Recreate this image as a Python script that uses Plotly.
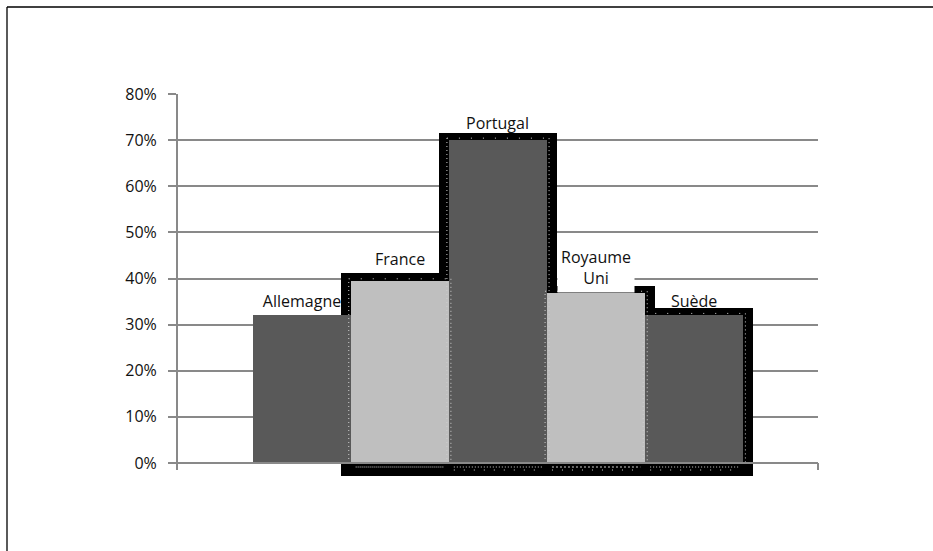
import plotly.graph_objects as go

# ---- data -------------------------------------------------------------
categories = ["Allemagne", "France", "Portugal", "Royaume Uni", "Suède"]
shares = [0.32, 0.395, 0.70, 0.368, 0.32]
bar_colors = ["#595959", "#bfbfbf", "#595959", "#bfbfbf", "#595959"]
tick_values = [0.0, 0.1, 0.2, 0.3, 0.4, 0.5, 0.6, 0.7, 0.8]
tick_labels = ["0%", "10%", "20%", "30%", "40%", "50%", "60%", "70%", "80%"]

# ---- geometry ---------------------------------------------------------
W, H = 933, 551
PL, PR, PT, PB = 177, 818, 94, 478          # plot area edges in px
Y_MIN, Y_MAX = -0.0325, 0.80
X_MIN, X_MAX = -1.27, 5.26
PX_X = (PR - PL) / (X_MAX - X_MIN)          # px per category unit
PX_Y = (PB - PT) / (Y_MAX - Y_MIN)          # px per value unit

GRID = "#898989"
TEXT = "#111111"
FONT = "Open Sans"


def xp(px):
    return (px - PL) / (PR - PL)


def yp(py):
    return (PB - py) / (PB - PT)


def yp_val(v):
    return (v - Y_MIN) / (Y_MAX - Y_MIN)


fig = go.Figure()

# label of the first bar sits under the neighbouring shadows
fig.add_trace(go.Bar(
    x=categories[:1], y=shares[:1], width=1.0,
    marker=dict(color="rgba(0,0,0,0)", line=dict(width=0)),
    text=categories[:1], textposition="outside", cliponaxis=False,
    constraintext="none",
    textfont=dict(family=FONT, size=16, color=TEXT),
    hoverinfo="skip",
))

# black shadow frame behind the other bars
shadow_top = 7.5 / PX_Y
shadow_base = -13 / PX_Y
fig.add_trace(go.Bar(
    x=categories[1:],
    y=[v + shadow_top - shadow_base for v in shares[1:]],
    base=shadow_base,
    width=1 + 2 * 10 / PX_X,
    marker=dict(color="#000000", line=dict(width=0)),
    hoverinfo="skip",
))

# main bars
fig.add_trace(go.Bar(
    x=categories, y=shares, width=1.0,
    marker=dict(color=bar_colors, line=dict(width=0)),
    hoverinfo="skip",
))

shapes = []

# dotted edges inside the shadow frames
dot = dict(color="#cfcfcf", width=1)
for i in range(1, len(categories)):
    v = shares[i]
    left = i - 0.5 - 2 / PX_X
    right = i + 0.5 + 2 / PX_X
    top = v + 2 / PX_Y
    for (x0, y0, x1, y1, d) in [
        (left, 0, left, top, "1px,3px"),
        (left, top, right, top, "1px,11px"),
        (right, top, right, 0, "1px,3px"),
    ]:
        shapes.append(dict(type="line", xref="x", yref="y",
                           x0=x0, y0=y0, x1=x1, y1=y1, layer="above",
                           line=dict(dot, dash=d)))
    row_dash = ["1px,1px", "1px,2px", "2px,2px", "1px,2px"][i - 1]
    shapes.append(dict(type="line", xref="x", yref="y",
                       x0=i - 0.45, x1=i + 0.45,
                       y0=-4 / PX_Y, y1=-4 / PX_Y, layer="above",
                       line=dict(dot, dash=row_dash)))
    if i in (2, 3, 4):
        shapes.append(dict(type="line", xref="x", yref="y",
                           x0=i - 0.45, x1=i + 0.45,
                           y0=-7 / PX_Y, y1=-7 / PX_Y, layer="above",
                           line=dict(dot, dash="1px,9px")))

# axis lines and end ticks of the category axis
y0p = yp_val(0)
shapes += [
    dict(type="line", xref="paper", yref="paper",
         x0=0, x1=0, y0=y0p - 5 / (PB - PT), y1=1,
         line=dict(color=GRID, width=2), layer="above"),
    dict(type="line", xref="paper", yref="paper",
         x0=xp(PL - 8), x1=1, y0=y0p, y1=y0p,
         line=dict(color=GRID, width=2), layer="above"),
    dict(type="line", xref="paper", yref="paper",
         x0=0, x1=0, y0=y0p, y1=y0p - 7 / (PB - PT),
         line=dict(color=GRID, width=2), layer="above"),
    dict(type="line", xref="paper", yref="paper",
         x0=1, x1=1, y0=y0p, y1=y0p - 7 / (PB - PT),
         line=dict(color=GRID, width=2), layer="above"),
]

# outer frame edges
shapes += [
    dict(type="line", xref="paper", yref="paper",
         x0=xp(7), x1=xp(W + 5), y0=yp(7), y1=yp(7),
         line=dict(color="#000000", width=1.3), layer="above"),
    dict(type="line", xref="paper", yref="paper",
         x0=xp(7), x1=xp(7), y0=yp(7), y1=yp(H + 5),
         line=dict(color="#000000", width=1.3), layer="above"),
]

# category labels
label_shift = {"France": 22, "Portugal": 17, "Suède": 14}
annotations = []
for i, name in enumerate(categories):
    if name in label_shift:
        annotations.append(dict(
            x=i, y=shares[i], xref="x", yref="y", text=name,
            showarrow=False, yanchor="middle", yshift=label_shift[name],
            font=dict(family=FONT, size=16, color=TEXT),
        ))
    elif name == "Royaume Uni":
        annotations.append(dict(
            x=i, y=shares[i], xref="x", yref="y",
            text=name.replace(" ", "<br>"),
            showarrow=False, yanchor="bottom",
            bgcolor="#ffffff", borderpad=3,
            font=dict(family=FONT, size=16, color=TEXT),
        ))

fig.update_layout(
    width=W, height=H, autosize=False,
    margin=dict(l=PL, r=W - PR, t=PT, b=H - PB, pad=0),
    paper_bgcolor="#ffffff", plot_bgcolor="#ffffff",
    barmode="overlay", bargap=0, showlegend=False,
    font=dict(family=FONT, size=16, color=TEXT),
    xaxis=dict(type="category", categoryorder="array",
               categoryarray=categories, range=[X_MIN, X_MAX],
               showticklabels=False, showgrid=False, zeroline=False,
               showline=False, ticks="", fixedrange=True),
    yaxis=dict(range=[Y_MIN, Y_MAX], tickvals=tick_values,
               ticktext=tick_labels, showgrid=True, gridcolor=GRID,
               gridwidth=2, zeroline=False, showline=False,
               ticks="outside", ticklen=8, tickwidth=2, tickcolor=GRID,
               ticklabelstandoff=8,
               tickfont=dict(family=FONT, size=16, color=TEXT),
               fixedrange=True),
    shapes=shapes,
    annotations=annotations,
)

fig.write_html("out.html")
